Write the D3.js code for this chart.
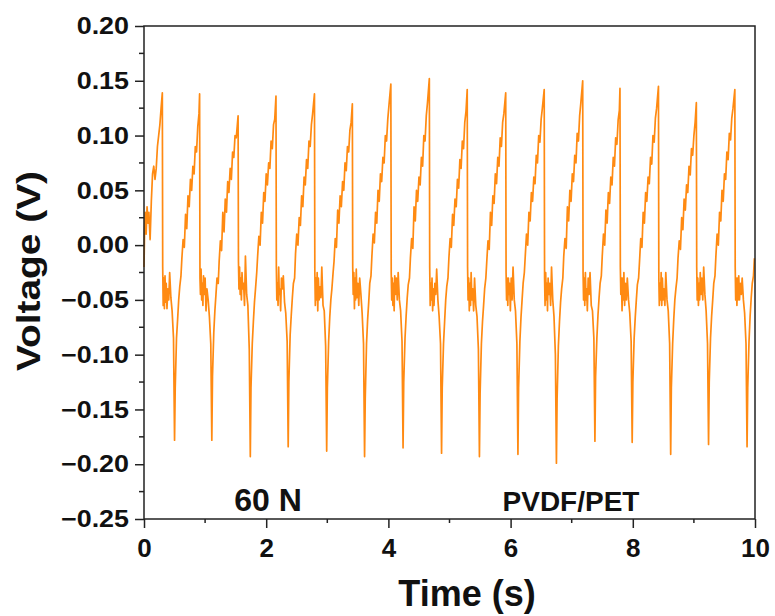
<!DOCTYPE html>
<html>
<head>
<meta charset="utf-8">
<script src="https://cdn.jsdelivr.net/npm/d3@7"></script>
<style>
    body { margin: 0; background: #fff; }
    text { font-family: "Liberation Sans", Arial, sans-serif; font-weight: bold; fill: #111; }
</style>
</head>
<body>
<svg id="chart" width="775" height="616"></svg>
<script>
// lead-in before the first peak
const leadTimes = [0, 0.01, 0.02, 0.035, 0.05, 0.065, 0.08, 0.1, 0.12, 0.14, 0.16, 0.18, 0.2, 0.22, 0.24, 0.26, 0.28];
const leadVolts = [-0.02, 0.015, 0.03, 0.01, 0.035, 0.02, 0.03, 0.005, 0.04, 0.065, 0.072, 0.06, 0.07, 0.09, 0.1, 0.11, 0.125];

// time of each positive peak (s)
const peakTimes = [0.30, 0.91, 1.54, 2.16, 2.79, 3.41, 4.04, 4.67, 5.29, 5.92, 6.55, 7.18, 7.79, 8.42, 9.04, 9.67];

// sample offsets from each peak (s)
const cycleOffsets = [0, 0.006, 0.014, 0.024, 0.034, 0.044, 0.054, 0.064, 0.076, 0.09, 0.105, 0.12, 0.14, 0.16, 0.183, 0.20,
    0.211, 0.232, 0.25, 0.268, 0.285, 0.305, 0.32, 0.34, 0.36, 0.38, 0.40, 0.42, 0.44, 0.46, 0.48, 0.50, 0.52, 0.54, 0.56, 0.58, 0.60];

// voltage read for every cycle (V)
const cycleVolts = [
    [0.139,-0.02,-0.055,-0.03,-0.058,-0.028,-0.052,-0.035,-0.058,-0.04,-0.05,-0.025,-0.048,-0.06,-0.085,-0.178,-0.13,-0.085,-0.068,-0.05,-0.038,-0.028,-0.012,0.005,-0.002,0.028,0.015,0.045,0.035,0.06,0.05,0.072,0.065,0.09,0.085,0.108,0.12],
    [0.138,-0.03,-0.045,-0.022,-0.05,-0.035,-0.055,-0.028,-0.045,-0.03,-0.06,-0.04,-0.05,-0.065,-0.09,-0.178,-0.12,-0.08,-0.06,-0.045,-0.03,-0.035,-0.015,0.004,-0.005,0.03,0.012,0.042,0.03,0.058,0.048,0.07,0.06,0.085,0.08,0.1,0.098],
    [0.118,-0.015,-0.04,-0.02,-0.045,-0.03,-0.05,-0.025,-0.04,-0.035,-0.055,-0.01,-0.045,-0.055,-0.095,-0.193,-0.13,-0.09,-0.07,-0.052,-0.04,-0.025,-0.01,0.008,0.0,0.03,0.02,0.048,0.04,0.065,0.055,0.075,0.07,0.095,0.088,0.11,0.115],
    [0.136,-0.02,-0.05,-0.035,-0.055,-0.02,-0.045,-0.04,-0.06,-0.03,-0.04,-0.028,-0.052,-0.062,-0.088,-0.184,-0.125,-0.082,-0.064,-0.048,-0.035,-0.03,-0.008,0.01,0.0,0.025,0.018,0.045,0.035,0.062,0.055,0.078,0.07,0.095,0.09,0.11,0.12],
    [0.138,-0.025,-0.055,-0.03,-0.05,-0.025,-0.06,-0.03,-0.05,-0.038,-0.048,-0.02,-0.055,-0.06,-0.092,-0.188,-0.13,-0.088,-0.066,-0.05,-0.04,-0.025,-0.015,0.006,-0.002,0.032,0.02,0.045,0.035,0.058,0.05,0.075,0.068,0.09,0.085,0.105,0.112],
    [0.129,-0.02,-0.045,-0.025,-0.058,-0.03,-0.05,-0.022,-0.048,-0.035,-0.055,-0.03,-0.045,-0.062,-0.09,-0.193,-0.14,-0.09,-0.068,-0.052,-0.035,-0.028,-0.01,0.01,0.002,0.03,0.02,0.05,0.04,0.065,0.058,0.08,0.075,0.1,0.095,0.115,0.128],
    [0.147,-0.025,-0.05,-0.03,-0.055,-0.035,-0.06,-0.028,-0.045,-0.03,-0.05,-0.025,-0.05,-0.06,-0.088,-0.185,-0.125,-0.085,-0.065,-0.048,-0.036,-0.03,-0.012,0.006,-0.003,0.035,0.022,0.05,0.04,0.062,0.055,0.08,0.072,0.1,0.095,0.118,0.13],
    [0.152,-0.02,-0.055,-0.035,-0.05,-0.03,-0.06,-0.04,-0.055,-0.035,-0.045,-0.022,-0.05,-0.065,-0.09,-0.19,-0.13,-0.09,-0.07,-0.05,-0.038,-0.03,-0.012,0.006,-0.002,0.028,0.018,0.042,0.035,0.06,0.052,0.078,0.07,0.095,0.088,0.112,0.122],
    [0.142,-0.02,-0.05,-0.03,-0.06,-0.035,-0.055,-0.025,-0.05,-0.04,-0.06,-0.03,-0.055,-0.065,-0.095,-0.193,-0.135,-0.09,-0.07,-0.055,-0.04,-0.03,-0.015,0.004,-0.004,0.03,0.018,0.045,0.038,0.065,0.056,0.08,0.072,0.098,0.09,0.112,0.12],
    [0.139,-0.025,-0.05,-0.03,-0.055,-0.03,-0.045,-0.035,-0.06,-0.03,-0.05,-0.02,-0.05,-0.06,-0.09,-0.191,-0.13,-0.088,-0.066,-0.05,-0.035,-0.025,-0.01,0.01,0.0,0.03,0.022,0.048,0.04,0.062,0.056,0.082,0.075,0.1,0.094,0.115,0.125],
    [0.142,-0.03,-0.055,-0.025,-0.05,-0.035,-0.06,-0.03,-0.045,-0.035,-0.055,-0.02,-0.05,-0.065,-0.1,-0.199,-0.14,-0.092,-0.07,-0.052,-0.04,-0.03,-0.01,0.006,-0.003,0.035,0.022,0.05,0.04,0.065,0.058,0.082,0.075,0.102,0.095,0.118,0.13],
    [0.15,-0.025,-0.05,-0.03,-0.055,-0.025,-0.05,-0.04,-0.06,-0.03,-0.045,-0.025,-0.055,-0.06,-0.085,-0.179,-0.12,-0.085,-0.064,-0.048,-0.035,-0.028,-0.01,0.01,0.0,0.032,0.02,0.048,0.038,0.062,0.055,0.08,0.072,0.098,0.092,0.114,0.123],
    [0.143,-0.02,-0.045,-0.03,-0.06,-0.03,-0.05,-0.025,-0.055,-0.035,-0.05,-0.03,-0.05,-0.062,-0.088,-0.18,-0.125,-0.085,-0.066,-0.05,-0.036,-0.03,-0.015,0.006,-0.002,0.03,0.02,0.048,0.04,0.062,0.056,0.08,0.074,0.1,0.094,0.116,0.125],
    [0.145,-0.03,-0.055,-0.035,-0.05,-0.025,-0.055,-0.03,-0.05,-0.04,-0.055,-0.025,-0.05,-0.06,-0.09,-0.191,-0.13,-0.09,-0.068,-0.05,-0.04,-0.03,-0.012,0.004,-0.004,0.025,0.014,0.042,0.032,0.055,0.048,0.072,0.064,0.088,0.082,0.1,0.112],
    [0.13,-0.02,-0.05,-0.03,-0.055,-0.035,-0.05,-0.025,-0.045,-0.03,-0.05,-0.02,-0.045,-0.06,-0.09,-0.182,-0.125,-0.085,-0.065,-0.05,-0.035,-0.028,-0.01,0.01,0.0,0.03,0.022,0.05,0.04,0.065,0.06,0.085,0.078,0.102,0.096,0.116,0.125],
    [0.142,-0.02,-0.05,-0.03,-0.055,-0.03,-0.05,-0.028,-0.05,-0.035,-0.045,-0.03,-0.05,-0.062,-0.09,-0.184,-0.13,-0.088,-0.065,-0.048,-0.035,-0.028,-0.012]
];

const xTicks = [0, 2, 4, 6, 8, 10];
const yTicks = [0.20, 0.15, 0.10, 0.05, 0.00, -0.05, -0.10, -0.15, -0.20, -0.25];

// build the series as [time, voltage] pairs
let series = leadTimes.map((t, i) => [t, leadVolts[i]]);
peakTimes.forEach((p, c) => {
    cycleVolts[c].forEach((v, i) => series.push([p + cycleOffsets[i], v]));
});
series = series.filter(d => d[0] <= 10);

const svg = d3.select("#chart");
const plotLeft = 144, plotRight = 755, plotTop = 26, plotBottom = 519;

const x = d3.scaleLinear().domain([0, 10]).range([plotLeft, plotRight]);
const y = d3.scaleLinear().domain([-0.25, 0.20]).range([plotBottom, plotTop]);

// signal
svg.append("path")
    .datum(series)
    .attr("fill", "none")
    .attr("stroke", "#ff8a12")
    .attr("stroke-width", 1.7)
    .attr("stroke-linejoin", "round")
    .attr("d", d3.line().x(d => x(d[0])).y(d => y(d[1])));

// frame
svg.append("rect")
    .attr("x", plotLeft).attr("y", plotTop)
    .attr("width", plotRight - plotLeft).attr("height", plotBottom - plotTop)
    .attr("fill", "none").attr("stroke", "#222").attr("stroke-width", 1.5);

// minor ticks
let xMinor = [1, 3, 5, 7, 9];
svg.append("g").selectAll("line").data(xMinor).enter().append("line")
    .attr("x1", d => x(d)).attr("x2", d => x(d))
    .attr("y1", plotBottom).attr("y2", plotBottom + 4)
    .attr("stroke", "#222").attr("stroke-width", 1.5);
let yMinor = [0.175, 0.125, 0.075, 0.025, -0.025, -0.075, -0.125, -0.175, -0.225];
svg.append("g").selectAll("line").data(yMinor).enter().append("line")
    .attr("x1", plotLeft - 5).attr("x2", plotLeft)
    .attr("y1", d => y(d)).attr("y2", d => y(d))
    .attr("stroke", "#222").attr("stroke-width", 1.5);

// axes
const xAxis = svg.append("g")
    .attr("transform", "translate(0," + plotBottom + ")")
    .call(d3.axisBottom(x).tickValues(xTicks).tickSize(9).tickPadding(11).tickFormat(d3.format("d")));
const yAxis = svg.append("g")
    .attr("transform", "translate(" + plotLeft + ",0)")
    .call(d3.axisLeft(y).tickValues(yTicks).tickSize(9).tickPadding(6).tickFormat(d => d3.format(".2f")(d).replace("-", "\u2212")));

[xAxis, yAxis].forEach(a => {
    a.select(".domain").remove();
    a.selectAll("line").attr("stroke", "#222").attr("stroke-width", 1.5);
    a.selectAll("text").attr("fill", "#111")
        .style("font-family", "'Liberation Sans', Arial, sans-serif").style("font-weight", "bold");
});
xAxis.selectAll("text").style("font-size", "26px");
yAxis.selectAll("text").style("font-size", "24px")
    .each(function() {
        // the reference labels are a bit wider than Arial
        let w = this.getComputedTextLength();
        d3.select(this).attr("textLength", w * 1.12).attr("lengthAdjust", "spacingAndGlyphs");
    });

// titles
svg.append("text")
    .attr("x", 467).attr("y", 606)
    .attr("text-anchor", "middle")
    .style("font-size", "36px")
    .text("Time (s)");

svg.append("text")
    .attr("transform", "translate(40,271) rotate(-90)")
    .attr("text-anchor", "middle")
    .attr("textLength", 200).attr("lengthAdjust", "spacingAndGlyphs")
    .style("font-size", "33px")
    .text("Voltage (V)");

// annotations
svg.append("text")
    .attr("x", 268).attr("y", 511)
    .attr("text-anchor", "middle")
    .style("font-size", "32px")
    .text("60 N");

svg.append("text")
    .attr("x", 571).attr("y", 511)
    .attr("text-anchor", "middle")
    .style("font-size", "28px")
    .text("PVDF/PET");
</script>
</body>
</html>
